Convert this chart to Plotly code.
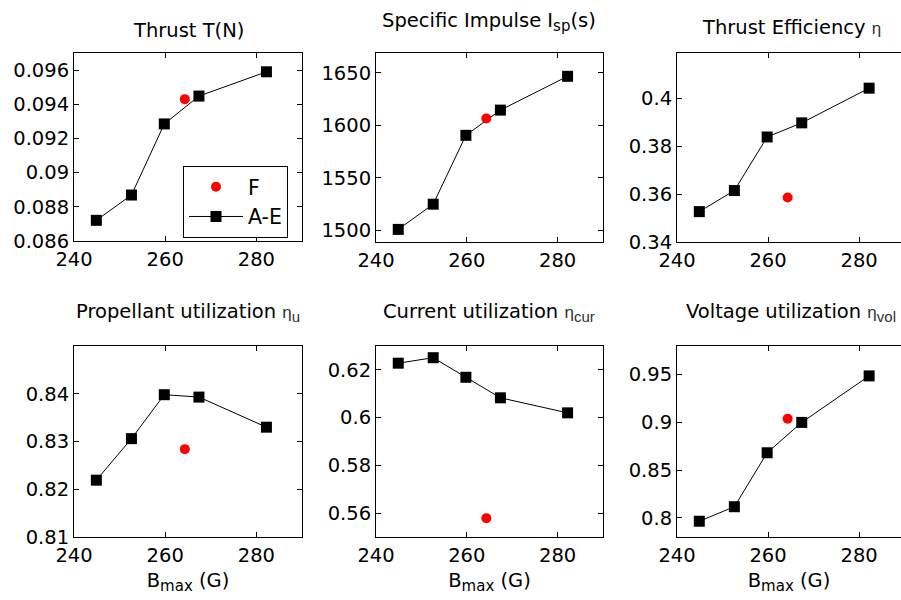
import plotly.graph_objects as go
from plotly.subplots import make_subplots

# ---- data ----
b_max = [244.9, 252.6, 259.8, 267.4, 282.2]   # A-E
b_max_f = [264.3]                              # F

thrust = [0.08721, 0.08869, 0.09285, 0.09448, 0.0959]
thrust_f = [0.0943]
isp = [1501, 1525, 1590.6, 1614.6, 1646.8]
isp_f = [1606.7]
eff = [0.3527, 0.3615, 0.3839, 0.3898, 0.4043]
eff_f = [0.3586]
prop_u = [0.8219, 0.8306, 0.8398, 0.8393, 0.833]
prop_u_f = [0.8284]
cur_u = [0.6228, 0.6251, 0.6169, 0.6083, 0.602]
cur_u_f = [0.5579]
vol_u = [0.7965, 0.8117, 0.8682, 0.9, 0.9487]
vol_u_f = [0.9039]

ETA = "<span style='font-size:17px;font-family:Liberation Sans;fill:#333'>η</span>"
def eta_sub(s):
    return ("<span style='font-size:17px;font-family:Liberation Sans;fill:#333'>η"
            "<sub><span style='font-size:15px'>" + s + "</span></sub></span>")

titles = ["Thrust T(N)",
          "Specific Impulse I<sub><span style='font-size:15px'>sp</span></sub>(s)",
          "Thrust Efficiency " + ETA,
          "Propellant utilization " + eta_sub("u"),
          "Current utilization " + eta_sub("cur"),
          "Voltage utilization " + eta_sub("vol")]
x_label = "B<sub><span style='font-size:15px'>max</span></sub> (G)"

x_ticks = [240, 260, 280]
y_ticks = [
    [0.086, 0.088, 0.09, 0.092, 0.094, 0.096],
    [1500, 1550, 1600, 1650],
    [0.34, 0.36, 0.38, 0.4],
    [0.81, 0.82, 0.83, 0.84],
    [0.56, 0.58, 0.6, 0.62],
    [0.8, 0.85, 0.9, 0.95],
]
y_ticktext = [
    ["0.086", "0.088", "0.09", "0.092", "0.094", "0.096"],
    ["1500", "1550", "1600", "1650"],
    ["0.34", "0.36", "0.38", "0.4"],
    ["0.81", "0.82", "0.83", "0.84"],
    ["0.56", "0.58", "0.6", "0.62"],
    ["0.8", "0.85", "0.9", "0.95"],
]
y_ranges = [[0.086, 0.097], [1489, 1669], [0.34, 0.419],
            [0.81, 0.85], [0.55, 0.63], [0.78, 0.98]]
series = [(thrust, thrust_f), (isp, isp_f), (eff, eff_f),
          (prop_u, prop_u_f), (cur_u, cur_u_f), (vol_u, vol_u_f)]

W, H = 901, 600
FONT = "DejaVu Sans, Verdana, sans-serif"
FS = 19.5
# pixel boxes (left, right, top, bottom)
boxes = [(74, 302, 53, 241), (376, 603, 53, 242), (677, 901, 53, 242),
         (74, 302, 346, 537), (376, 603, 346, 537), (677, 901, 346, 537)]
x_ranges = [[240, 290], [240, 290], [240, 289.2],
            [240, 290], [240, 290], [240, 289.2]]
title_x = [188, 489, 791, 188, 489, 791]
title_y = [30, 22, 28, 312, 312, 312]

fig = make_subplots(rows=2, cols=3)

for i, ((ys, yf), box) in enumerate(zip(series, boxes)):
    r, c = i // 3 + 1, i % 3 + 1
    fig.add_trace(go.Scatter(x=b_max, y=ys, mode="lines+markers", name="A-E",
                             line=dict(color="black", width=1),
                             marker=dict(symbol="square", size=11, color="black"),
                             showlegend=(i == 0), legendrank=2), row=r, col=c)
    fig.add_trace(go.Scatter(x=b_max_f, y=yf, mode="markers", name="F",
                             marker=dict(symbol="circle", size=10, color="red"),
                             showlegend=(i == 0), legendrank=1), row=r, col=c)
    l, rr, t, b = box
    xd = [l / W, rr / W]
    yd = [1 - b / H, 1 - t / H]
    axsuf = "" if i == 0 else str(i + 1)
    fig.layout["xaxis" + axsuf].update(
        domain=xd, range=x_ranges[i], tickvals=x_ticks, ticks="inside", ticklen=5,
        mirror="ticks", showline=True, linecolor="black", linewidth=1,
        tickcolor="black", showgrid=False, zeroline=False, ticklabelstandoff=1,
        automargin=False,
        tickfont=dict(size=FS, color="black", family=FONT))
    fig.layout["yaxis" + axsuf].update(
        domain=yd, range=y_ranges[i], tickvals=y_ticks[i], ticktext=y_ticktext[i],
        ticks="inside", ticklen=5, mirror=("ticks" if i % 3 != 2 else False),
        showline=True, linecolor="black", automargin=False,
        linewidth=1, tickcolor="black", showgrid=False, zeroline=False,
        tickfont=dict(size=FS, color="black", family=FONT))
    if i >= 3:
        fig.layout["xaxis" + axsuf].update(
            title=dict(text=x_label, standoff=6,
                       font=dict(size=FS, color="black", family=FONT)))
    fig.add_annotation(text=titles[i], x=title_x[i] / W,
                       y=1 - title_y[i] / H, xref="paper", yref="paper",
                       xanchor="center", yanchor="middle", showarrow=False,
                       font=dict(size=FS, color="black", family=FONT))

fig.update_layout(
    width=W, height=H, margin=dict(l=0, r=0, t=0, b=0, pad=0, autoexpand=False),
    paper_bgcolor="white", plot_bgcolor="white",
    font=dict(family=FONT, color="black"),
    legend=dict(x=183 / W, y=1 - 166 / H, xanchor="left", yanchor="top",
                bordercolor="black", borderwidth=1, bgcolor="white",
                font=dict(size=FS + 1, color="black", family=FONT),
                traceorder="normal", itemwidth=54),
)

fig.write_html("out.html")
